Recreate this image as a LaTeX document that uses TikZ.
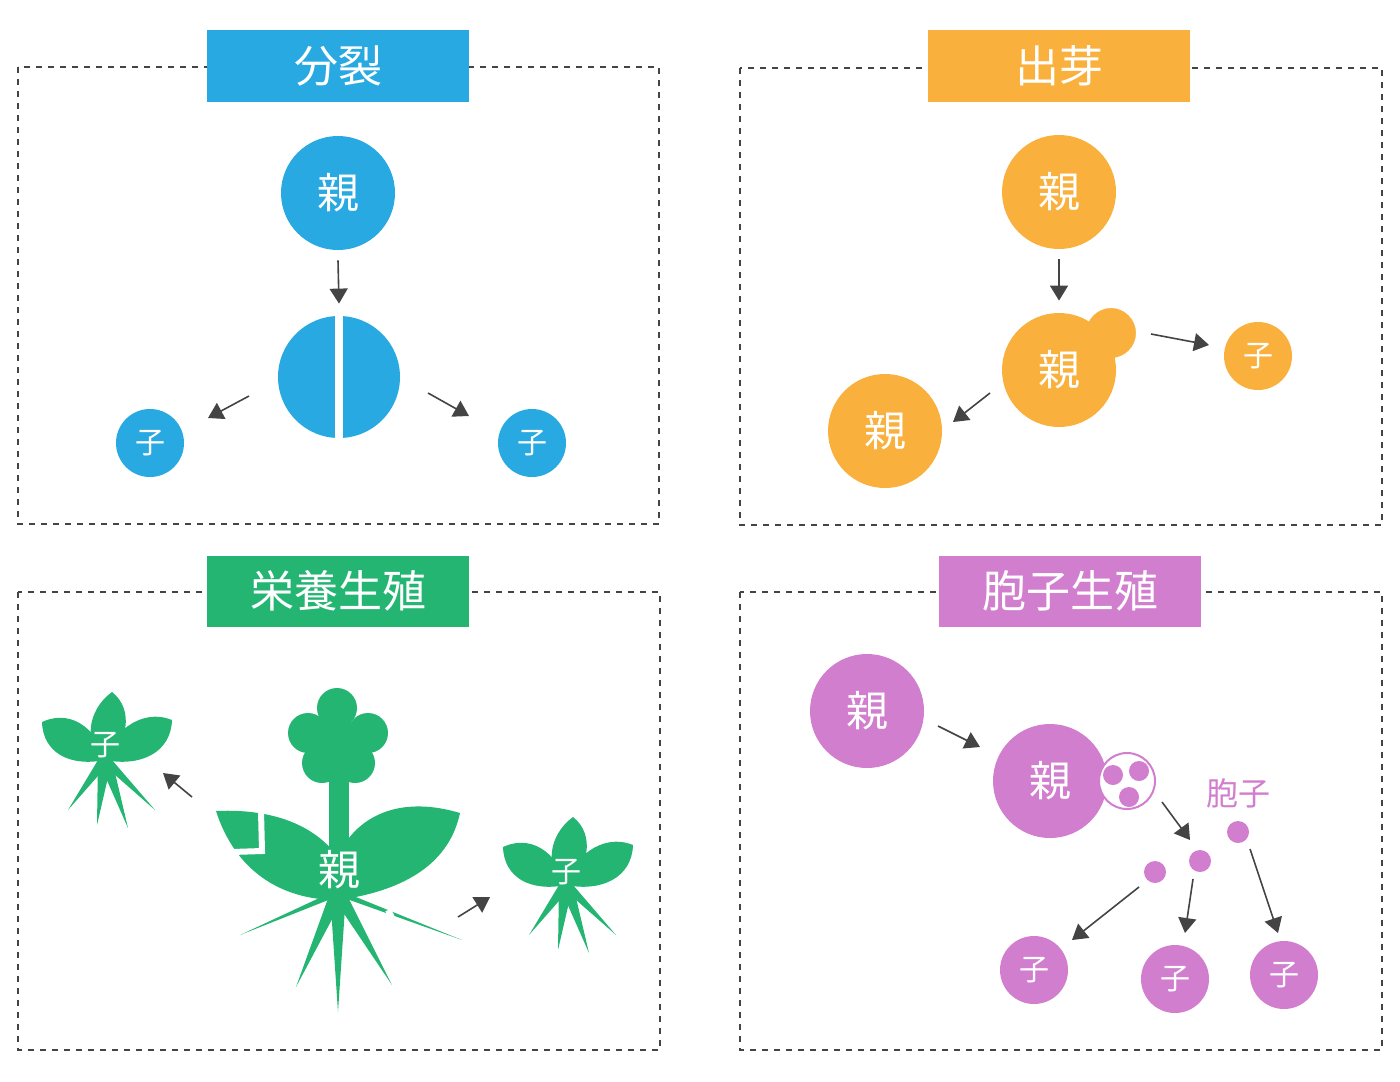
\documentclass[tikz,border=0pt]{standalone}
\usepackage{fontspec}
\setmainfont{Noto Sans CJK JP}
\usetikzlibrary{arrows.meta}
\definecolor{cblue}{HTML}{29A9E1}
\definecolor{corange}{HTML}{F9B03C}
\definecolor{cgreen}{HTML}{24B573}
\definecolor{cpurple}{HTML}{D17ECF}
\definecolor{cgray}{HTML}{444444}
\tikzset{
  panel/.style={draw=cgray,dashed,line width=0.6pt},
  title/.style={minimum width=131pt,minimum height=35.5pt,text=white,font=\fontsize{22}{24}\selectfont,inner sep=0pt},
  ball/.style={circle,inner sep=0pt,text=white,font=\fontsize{21}{23}\selectfont},
  kid/.style={circle,inner sep=0pt,minimum size=34pt,text=white,font=\fontsize{15}{17}\selectfont},
  arr/.style={-{Triangle[length=7.5pt,width=9pt]},draw=cgray,line width=0.8pt},
}
\begin{document}
\begin{tikzpicture}[x=0.5pt,y=-0.5pt]
  \useasboundingbox (0,0) rectangle (1400,1081);
  \newcommand{\kidplant}[2]{%
    \begin{scope}[shift={(#1,#2)}]
      % Roots
      \foreach \tx/\ty in {-37/65,-8/80,23/83,50/65}{\fill[cgreen] (-7,15) -- (\tx,\ty) -- (7,15) -- cycle;}
      % Leaves
      \fill[cgreen] (7,-53) .. controls (30,-35) and (22,0) .. (0,15) .. controls (-22,0) and (-18,-35) .. (7,-53) -- cycle;
      \fill[cgreen] (-63,-23) .. controls (-30,-38) and (-5,-10) .. (0,15) .. controls (-35,22) and (-62,8) .. (-63,-23) -- cycle;
      \fill[cgreen] (67,-25) .. controls (35,-38) and (5,-10) .. (0,15) .. controls (35,22) and (66,8) .. (67,-25) -- cycle;
    \end{scope}}
  % Panels
  \draw[panel] (18,67) rectangle (659,524);
  \draw[panel] (740,68) rectangle (1382,525);
  \draw[panel] (18,592) rectangle (660,1050);
  \draw[panel] (740,592) rectangle (1382,1050);
  % Titles
  \node[title,fill=cblue] (tfis) at (338,66) {分裂};
  \node[title,fill=corange] (tbud) at (1059,66) {出芽};
  \node[title,fill=cgreen] (tveg) at (338,591) {栄養生殖};
  \node[title,fill=cpurple] (tspo) at (1070,591) {胞子生殖};
  % Fission
  \node[ball,fill=cblue,minimum size=57pt] (fp) at (338,193) {親};
  \node[circle,fill=cblue,minimum size=61pt,inner sep=0pt] (fs) at (339,377) {};
  \fill[white] (335,310) rectangle (343,444);
  \node[kid,fill=cblue] (fk1) at (150,443) {子};
  \node[kid,fill=cblue] (fk2) at (532,443) {子};
  \draw[arr] ([yshift=-5pt]fp.south) -- ([yshift=6pt]fs.north);
  \draw[arr] (249,396) -- (208,418);
  \draw[arr] (428,393) -- (469,416);
  % Budding
  \node[ball,fill=corange,minimum size=57pt] (bp) at (1059,192) {親};
  \node[circle,fill=corange,minimum size=27pt,inner sep=0pt] (bb) at (1111,333) {};
  \draw[white,line width=2pt] (1111,333) circle (27);
  \node[ball,fill=corange,minimum size=57pt] (bm) at (1059,370) {親};
  \node[kid,fill=corange] (bk) at (1258,356) {子};
  \node[ball,fill=corange,minimum size=57pt] (bl) at (885,431) {親};
  \draw[arr] ([yshift=-5pt]bp.south) -- ([yshift=6pt]bm.north);
  \draw[arr] (1151,334) -- (1209,345);
  \draw[arr] (990,393) -- (953,422);
  % Vegetative
  \foreach \tx/\ty in {240/935,296/987,338/1012,392/985,462/940}{\fill[cgreen] (330,893) -- (\tx,\ty) -- (346,893) -- cycle;}
  \draw[white,line width=3pt] (388,910) -- (396,925);
  \fill[cgreen] (329,760) rectangle (349,860);
  \fill[cgreen] (338,740) circle (22);
  \foreach \px/\py in {337/708,308/733,368/733,322/763,355/763}{\fill[cgreen] (\px,\py) circle (20);}
  \fill[cgreen] (216,811) .. controls (280,808) and (320,830) .. (340,860) -- (338,900) .. controls (280,900) and (235,870) .. (216,811) -- cycle;
  \fill[cgreen] (460,813) .. controls (400,795) and (355,815) .. (336,860) -- (338,900) .. controls (410,890) and (450,860) .. (460,813) -- cycle;
  \draw[white,line width=3pt] (261,811) -- (262,851) -- (232,852);
  \node[text=white,font=\fontsize{21}{23}\selectfont] (vp) at (339,870) {親};
  \kidplant{105}{745}
  \node[text=white,font=\fontsize{15}{17}\selectfont] (vk1) at (105,745) {子};
  \kidplant{566}{870}
  \node[text=white,font=\fontsize{15}{17}\selectfont] (vk2) at (566,872) {子};
  \draw[arr] (192,797) -- (163,773);
  \draw[arr] (458,917) -- (490,897);
  % Spores
  \node[ball,fill=cpurple,minimum size=57pt] (sp) at (867,711) {親};
  \node[ball,fill=cpurple,minimum size=57pt] (sm) at (1050,781) {};
  \node[circle,draw=cpurple,fill=white,line width=1pt,minimum size=28pt,inner sep=0pt] (sg) at (1127,781) {};
  \node[text=white,font=\fontsize{21}{23}\selectfont] at (1050,781) {親};
  \foreach \dx/\dy in {1113/775,1139/771,1129/797}{\fill[cpurple] (\dx,\dy) circle (10);}
  \node[text=cpurple,font=\fontsize{16}{18}\selectfont] (slab) at (1238,793) {胞子};
  \fill[cpurple] (1155,872) circle (11) coordinate (s1);
  \fill[cpurple] (1200,861) circle (11) coordinate (s2);
  \fill[cpurple] (1238,832) circle (11) coordinate (s3);
  \node[kid,fill=cpurple] (sk1) at (1034,970) {子};
  \node[kid,fill=cpurple] (sk2) at (1175,979) {子};
  \node[kid,fill=cpurple] (sk3) at (1284,975) {子};
  \draw[arr] (938,726) -- (980,747);
  \draw[arr] (1162,802) -- (1190,840);
  \draw[arr] (1139,887) -- (1072,940);
  \draw[arr] (1193,879) -- (1185,933);
  \draw[arr] (1250,849) -- (1278,933);
\end{tikzpicture}
\end{document}
